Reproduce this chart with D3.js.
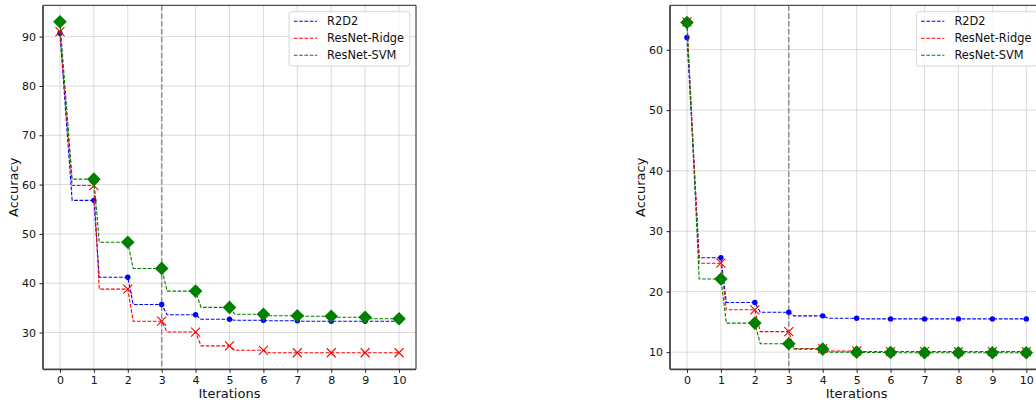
<!DOCTYPE html>
<html>
<head>
<meta charset="utf-8">
<script src="https://cdn.jsdelivr.net/npm/d3@7"></script>
<style>
  body { margin: 0; background: #fff; }
  svg { display: block; font-family: "DejaVu Sans", sans-serif; }
</style>
</head>
<body>
<svg id="chart" width="1036" height="400"></svg>
<script>
// iterations on the x axis
var iterations = [0, 1, 2, 3, 4, 5, 6, 7, 8, 9, 10];
var seriesNames = ["R2D2", "ResNet-Ridge", "ResNet-SVM"];

// left panel
var leftR2D2 = [90.7, 56.8, 41.2, 35.7, 33.6, 32.7, 32.5, 32.4, 32.3, 32.3, 32.3];
var leftRidge = [91.0, 59.8, 38.8, 32.3, 30.1, 27.3, 26.4, 25.9, 25.9, 25.9, 25.9];
var leftSVM = [93.0, 61.1, 48.3, 43.0, 38.4, 35.1, 33.7, 33.4, 33.3, 33.1, 32.8];
var leftYTicks = [30, 40, 50, 60, 70, 80, 90];

// right panel
var rightR2D2 = [62.0, 25.6, 18.2, 16.6, 16.0, 15.6, 15.5, 15.5, 15.5, 15.5, 15.5];
var rightRidge = [64.6, 24.7, 17.0, 13.4, 10.6, 10.2, 10.1, 10.1, 10.1, 10.1, 10.1];
var rightSVM = [64.5, 22.1, 14.8, 11.4, 10.5, 10.0, 9.95, 9.9, 9.9, 9.9, 9.9];
var rightYTicks = [10, 20, 30, 40, 50, 60];

var xTicks = [0, 1, 2, 3, 4, 5, 6, 7, 8, 9, 10];
var markIteration = 3;

var colors = ["#0000ff", "#ff0000", "#008000"];
var svg = d3.select("#chart");

function drawPanel(left, right, top, bottom, series, yTicks) {
    var g = svg.append("g");
    var x = d3.scaleLinear().domain([-0.5, 10.5]).range([left, right]);
    var all = [].concat.apply([], series);
    var lo = d3.min(all), hi = d3.max(all), pad = (hi - lo) * 0.05;
    var y = d3.scaleLinear().domain([lo - pad, hi + pad]).range([bottom, top]);

    // grid
    g.selectAll("line.gx").data(xTicks).enter().append("line")
        .attr("x1", function (d) { return x(d); }).attr("x2", function (d) { return x(d); })
        .attr("y1", top).attr("y2", bottom)
        .style("stroke", "#b0b0b0").style("stroke-opacity", 0.45).style("stroke-width", 1);
    g.selectAll("line.gy").data(yTicks).enter().append("line")
        .attr("x1", left).attr("x2", right)
        .attr("y1", function (d) { return y(d); }).attr("y2", function (d) { return y(d); })
        .style("stroke", "#b0b0b0").style("stroke-opacity", 0.45).style("stroke-width", 1);

    // marker line at iteration 3
    g.append("line")
        .attr("x1", x(markIteration)).attr("x2", x(markIteration))
        .attr("y1", top).attr("y2", bottom)
        .style("stroke", "#808080").style("stroke-opacity", 0.85)
        .style("stroke-width", 1.5).attr("stroke-dasharray", "5.5,2.4");

    // step-like curves: fast drop after each iteration, then flat
    var line = d3.line().x(function (d) { return x(d[0]); }).y(function (d) { return y(d[1]); });
    series.forEach(function (vals, s) {
        var pts = [];
        vals.forEach(function (v, i) {
            pts.push([iterations[i], v]);
            if (i < vals.length - 1) {
                var drop = i === 0 ? 0.36 : 0.16;
                pts.push([iterations[i] + drop, vals[i + 1]]);
            }
        });
        g.append("path").attr("d", line(pts))
            .style("fill", "none").style("stroke", colors[s])
            .style("stroke-width", 1.1).attr("stroke-dasharray", "3.7,1.6");

        var m = g.selectAll("g.m" + s).data(vals).enter().append("g")
            .attr("transform", function (d, i) { return "translate(" + x(iterations[i]) + "," + y(d) + ")"; });
        if (s === 0) {
            m.append("circle").attr("r", 2.7).style("fill", colors[s]);
        } else if (s === 1) {
            m.append("path").attr("d", "M-4.5,-4.5L4.5,4.5M-4.5,4.5L4.5,-4.5")
                .style("stroke", colors[s]).style("stroke-width", 1.1).style("fill", "none");
        } else {
            m.append("path").attr("d", "M0,-6.8L6.8,0L0,6.8L-6.8,0Z").style("fill", colors[s]);
        }
    });

    // spines
    g.append("line").attr("x1", left).attr("x2", right).attr("y1", top).attr("y2", top)
        .style("stroke", "#222").style("stroke-width", 1);
    g.append("line").attr("x1", right).attr("x2", right).attr("y1", top).attr("y2", bottom)
        .style("stroke", "#222").style("stroke-width", 1);
    g.append("line").attr("x1", left).attr("x2", left).attr("y1", top).attr("y2", bottom)
        .style("stroke", "#444").style("stroke-width", 1.8);
    g.append("line").attr("x1", left).attr("x2", right).attr("y1", bottom).attr("y2", bottom)
        .style("stroke", "#444").style("stroke-width", 1.8);

    // axes
    var xAxis = d3.axisBottom(x).tickValues(xTicks).tickSize(3.5).tickPadding(3.5);
    var yAxis = d3.axisLeft(y).tickValues(yTicks).tickSize(3.5).tickPadding(3.5);
    var gx = g.append("g").attr("transform", "translate(0," + bottom + ")").call(xAxis);
    var gy = g.append("g").attr("transform", "translate(" + left + ",0)").call(yAxis);
    [gx, gy].forEach(function (a) {
        a.select(".domain").remove();
        a.selectAll("line").style("stroke", "#222");
        a.selectAll("text").style("font-size", "11px").style("fill", "#111")
            .style("font-family", "DejaVu Sans");
    });

    g.append("text").text("Iterations")
        .attr("x", (left + right) / 2).attr("y", 398)
        .attr("text-anchor", "middle").style("font-size", "13px").style("fill", "#111");
    g.append("text").text("Accuracy")
        .attr("transform", "translate(" + (left - 25.5) + "," + ((top + bottom) / 2) + ") rotate(-90)")
        .attr("text-anchor", "middle").style("font-size", "13px").style("fill", "#111");

    // legend
    var lw = 120.7, lh = 54.3;
    var lx = right - 6.2 - lw, ly = top + 6.4;
    var leg = g.append("g").attr("transform", "translate(" + lx + "," + ly + ")");
    leg.append("rect").attr("width", lw).attr("height", lh).attr("rx", 2.5)
        .style("fill", "#fff").style("fill-opacity", 0.85)
        .style("stroke", "#d6d6d6").style("stroke-width", 1);
    seriesNames.forEach(function (name, s) {
        var cy = 9.6 + s * 17;
        leg.append("line").attr("x1", 4.7).attr("x2", 28).attr("y1", cy).attr("y2", cy)
            .style("stroke", colors[s]).style("stroke-width", 1.1).attr("stroke-dasharray", "3.7,1.6");
        leg.append("text").text(name).attr("x", 38).attr("y", cy)
            .attr("dy", "0.36em").style("font-size", "11.4px").style("fill", "#111");
    });
}

drawPanel(43, 416, 5.3, 369.3, [leftR2D2, leftRidge, leftSVM], leftYTicks);
drawPanel(670, 1043.3, 5.3, 369.3, [rightR2D2, rightRidge, rightSVM], rightYTicks);
</script>
</body>
</html>
